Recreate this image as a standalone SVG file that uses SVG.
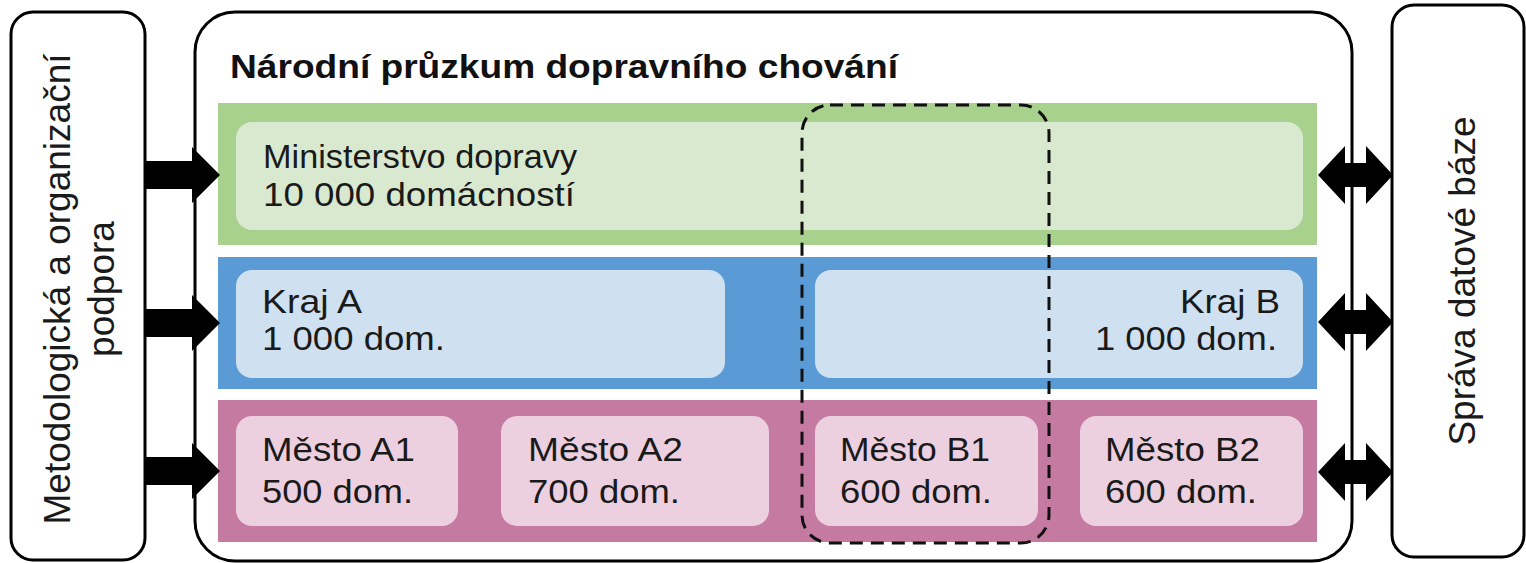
<svg xmlns="http://www.w3.org/2000/svg" width="1526" height="563" viewBox="0 0 1526 563">
<defs>
<style>
.frame{fill:#ffffff;stroke:#000000;stroke-width:3}
.t{font-family:"Liberation Sans",Arial,sans-serif;font-size:34px;fill:#1a1a1a}
.title{font-family:"Liberation Sans",Arial,sans-serif;font-size:34px;font-weight:bold;fill:#111111}
.vt{font-family:"Liberation Sans",Arial,sans-serif;font-size:37px;fill:#1a1a1a}
.gband{fill:#a9d18e}.ginner{fill:#d8e9cf}
.bband{fill:#5b9bd5}.binner{fill:#cfe0f1}
.pband{fill:#c47aa1}.pinner{fill:#ecd0e0}
.arrow{fill:#000000}
.dash{fill:none;stroke:#111111;stroke-width:3;stroke-dasharray:13 8}
</style>
<path id="single" d="M0,-14 H47 V-28 L75,0 L47,28 V14 H0 Z"/>
<path id="double" d="M0,0 L27,-29 V-12 H48 V-29 L75,0 L48,29 V12 H27 V29 Z"/>
</defs>

<g id="support">
<rect class="frame" x="11" y="12" width="134" height="548" rx="22"/>
<text class="vt" transform="translate(70,289) rotate(-90)" text-anchor="middle">Metodologická a organizační</text>
<text class="vt" transform="translate(114,289) rotate(-90)" text-anchor="middle">podpora</text>
</g>

<g id="survey">
<rect class="frame" x="195" y="12" width="1157" height="549" rx="40"/>
<text class="title" x="230" y="78" textLength="668" lengthAdjust="spacingAndGlyphs">Národní průzkum dopravního chování</text>
</g>

<g id="ministry">
<rect class="gband" x="218" y="103" width="1099" height="142"/>
<rect class="ginner" x="236" y="122" width="1067" height="108" rx="16"/>
<text class="t" x="263" y="168" textLength="314" lengthAdjust="spacingAndGlyphs">Ministerstvo dopravy</text>
<text class="t" x="263" y="206" textLength="312" lengthAdjust="spacingAndGlyphs">10 000 domácností</text>
</g>

<g id="regions">
<rect class="bband" x="218" y="257" width="1099" height="132"/>
</g>
<g id="krajA">
<rect class="binner" x="236" y="270" width="489" height="108" rx="16"/>
<text class="t" x="262" y="313" textLength="100" lengthAdjust="spacingAndGlyphs">Kraj A</text>
<text class="t" x="262" y="350" textLength="183" lengthAdjust="spacingAndGlyphs">1 000 dom.</text>
</g>
<g id="krajB">
<rect class="binner" x="815" y="270" width="488" height="108" rx="16"/>
<text class="t" x="1180" y="313" textLength="100" lengthAdjust="spacingAndGlyphs">Kraj B</text>
<text class="t" x="1095" y="350" textLength="182" lengthAdjust="spacingAndGlyphs">1 000 dom.</text>
</g>

<g id="cities">
<rect class="pband" x="218" y="400" width="1099" height="142"/>
</g>
<g id="mestoA1">
<rect class="pinner" x="236" y="416" width="222" height="110" rx="16"/>
<text class="t" x="262" y="461" textLength="153" lengthAdjust="spacingAndGlyphs">Město A1</text>
<text class="t" x="262" y="503" textLength="151" lengthAdjust="spacingAndGlyphs">500 dom.</text>
</g>
<g id="mestoA2">
<rect class="pinner" x="501" y="416" width="268" height="110" rx="16"/>
<text class="t" x="528" y="461" textLength="155" lengthAdjust="spacingAndGlyphs">Město A2</text>
<text class="t" x="528" y="503" textLength="152" lengthAdjust="spacingAndGlyphs">700 dom.</text>
</g>
<g id="mestoB1">
<rect class="pinner" x="815" y="416" width="223" height="110" rx="16"/>
<text class="t" x="840" y="461" textLength="150" lengthAdjust="spacingAndGlyphs">Město B1</text>
<text class="t" x="840" y="503" textLength="152" lengthAdjust="spacingAndGlyphs">600 dom.</text>
</g>
<g id="mestoB2">
<rect class="pinner" x="1080" y="416" width="223" height="110" rx="16"/>
<text class="t" x="1105" y="461" textLength="155" lengthAdjust="spacingAndGlyphs">Město B2</text>
<text class="t" x="1105" y="503" textLength="152" lengthAdjust="spacingAndGlyphs">600 dom.</text>
</g>

<g id="selection">
<rect class="dash" x="802" y="105" width="247" height="438" rx="28"/>
</g>

<g id="database">
<rect class="frame" x="1392" y="5" width="132" height="552" rx="22"/>
<text class="vt" transform="translate(1475,281) rotate(-90)" text-anchor="middle">Správa datové báze</text>
</g>

<g id="connectors">
<use href="#single" class="arrow" x="145" y="175"/>
<use href="#single" class="arrow" x="145" y="323"/>
<use href="#single" class="arrow" x="145" y="471"/>
<use href="#double" class="arrow" x="1318" y="175"/>
<use href="#double" class="arrow" x="1318" y="322"/>
<use href="#double" class="arrow" x="1318" y="472"/>
</g>
</svg>
